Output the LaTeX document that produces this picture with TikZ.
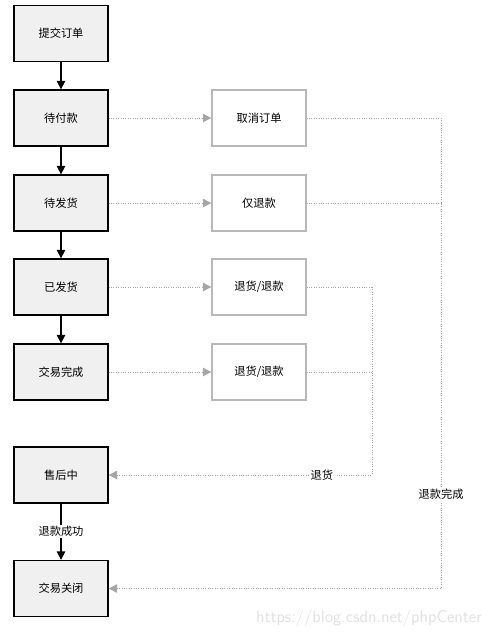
\documentclass[tikz,border=0pt]{standalone}
\usepackage{fontspec}
\setmainfont{Noto Sans CJK SC}
\usetikzlibrary{arrows.meta}

\begin{document}
\begin{tikzpicture}[x=0.025cm,y=-0.025cm,
    state/.style={draw,line width=0.9pt,fill=black!6,minimum width=2.35cm,minimum height=1.4cm,font=\footnotesize},
    action/.style={draw=black!28,line width=0.9pt,fill=white,minimum width=2.35cm,minimum height=1.4cm,font=\footnotesize},
    flow/.style={line width=0.9pt,-{Triangle[length=6pt,width=6pt]}},
    dotflow/.style={draw=black!35,densely dotted,line width=0.7pt,-{Triangle[length=6pt,width=6pt]}},
    dotline/.style={draw=black!35,densely dotted,line width=0.7pt},
    lbl/.style={fill=white,inner sep=1pt,font=\footnotesize}]
      \useasboundingbox (0,0) rectangle (489,637);
      \node[state] (submit) at (61, 33.5) {提交订单};
      \node[state] (unpaid) at (61, 118) {待付款};
      \node[state] (unsent) at (61, 203) {待发货};
      \node[state] (sent) at (61, 287) {已发货};
      \node[state] (done) at (61, 372) {交易完成};
      \node[state] (after) at (61, 475) {售后中};
      \node[state] (closed) at (61, 588.5) {交易关闭};
      \node[action] (cancel) at (259, 118) {取消订单};
      \node[action] (refund) at (259, 203) {仅退款};
      \node[action] (ret1) at (259, 287) {退货/退款};
      \node[action] (ret2) at (259, 372) {退货/退款};
      \coordinate (c1) at (441, 118);
      \coordinate (c2) at (441, 588.5);
      \coordinate (r1) at (372, 287);
      \coordinate (r2) at (372, 475);
      \draw[flow] (submit) -- (unpaid);
      \draw[flow] (unpaid) -- (unsent);
      \draw[flow] (unsent) -- (sent);
      \draw[flow] (sent) -- (done);
      \draw[flow] (after) -- node[lbl] {退款成功} (closed);
      \draw[dotflow] (unpaid) -- (cancel);
      \draw[dotflow] (unsent) -- (refund);
      \draw[dotflow] (sent) -- (ret1);
      \draw[dotflow] (done) -- (ret2);
      \draw[dotline] (cancel) -- (c1);
      \draw[dotline] (refund) -- (refund -| c1);
      \draw[dotflow] (c1) -- node[lbl,pos=0.8] {退款完成} (c2) -- (closed);
      \draw[dotline] (ret1) -- (r1);
      \draw[dotline] (ret2) -- (ret2 -| r1);
      \draw[dotflow] (r1) -- (r2) -- node[lbl,pos=0.19] {退货} (after);
      \node[text=black!12,font=\large\sffamily] (mark) at (369, 618) {https://blog.csdn.net/phpCenter};
    \end{tikzpicture}
\end{document}
